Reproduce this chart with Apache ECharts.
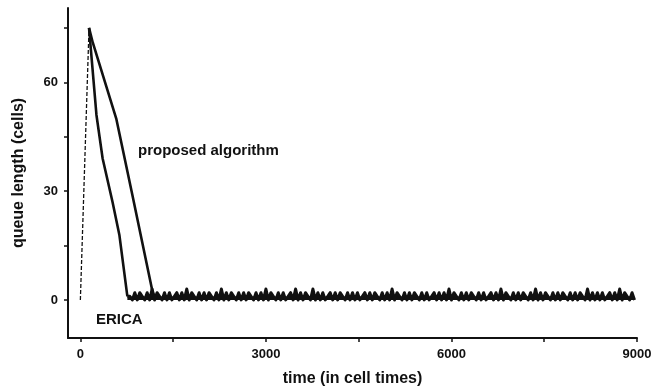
<!DOCTYPE html>
<html>
<head>
<meta charset="utf-8">
<script src="https://cdn.jsdelivr.net/npm/echarts@6/dist/echarts.min.js"></script>
<style>
  html, body { margin: 0; padding: 0; background: #fff; }
  #chart { width: 654px; height: 387px; }
</style>
</head>
<body>
<div id="chart"></div>
<script>
// queue build-up at the start (dashed)
const riseTime = [0, 140];
const riseQueue = [0, 75];

// drain of the queue, proposed algorithm
const proposedTime = [140, 200, 580, 840, 1170, 1200];
const proposedQueue = [75, 71, 50, 29, 2, 1];

// drain of the queue, ERICA
const ericaTime = [140, 260, 360, 520, 630, 760];
const ericaQueue = [75, 51, 39, 27, 18, 1];

// steady state after the drain, sampled every 40 cell times from t = 800
const steadyStart = 800;
const steadyStep = 40;
const steadyQueue = [
  1,0,2,0,2,1,0,2,0,3, 0,2,1,0,2,0,2,0,1,2,
  0,2,0,3,0,2,1,0,2,0, 2,0,2,1,0,2,0,3,0,2,
  0,2,1,0,2,0,2,0,2,1, 0,2,0,2,0,3,0,2,1,0,
  2,0,2,0,1,2,0,3,0,2, 0,2,1,0,3,0,2,0,2,0,
  1,2,0,2,0,2,1,0,2,0, 2,0,2,0,1,2,0,2,0,2,
  1,0,2,0,2,0,3,0,2,1, 0,2,0,2,0,2,1,0,2,0,
  2,0,1,2,0,2,0,2,0,3, 0,2,1,0,2,0,2,0,2,1,
  0,2,0,2,0,1,2,0,2,0, 3,0,2,1,0,2,0,2,0,2,
  1,0,2,0,3,0,2,0,2,1, 0,2,0,2,0,2,1,0,2,0,
  2,0,2,1,0,3,0,2,0,2, 0,2,0,1,2,0,2,0,3,0,
  2,1,0,2,0
];

const xTicks = [0, 1500, 3000, 4500, 6000, 7500, 9000];
const xLabels = [0, 3000, 6000, 9000];
const yTicks = [0, 15, 30, 45, 60, 75];
const yLabels = [0, 30, 60];

const zip = (xs, ys) => xs.map((x, i) => [x, ys[i]]);
const steadyData = [[ericaTime[ericaTime.length - 1], ericaQueue[ericaQueue.length - 1]]].concat(
  steadyQueue.map((v, i) => [steadyStart + i * steadyStep, v])
);

const ink = '#111';
const font = '"Liberation Sans", Arial, sans-serif';

const chart = echarts.init(document.getElementById('chart'));
chart.setOption({
  animation: false,
  backgroundColor: '#fff',
  grid: { left: 68, right: 17, top: 8, bottom: 49, outerBoundsMode: 'none' },
  xAxis: {
    type: 'value',
    min: -200,
    max: 9000,
    name: 'time (in cell times)',
    nameLocation: 'middle',
    nameGap: 33,
    nameTextStyle: { color: ink, fontSize: 16, fontWeight: 'bold', fontFamily: font },
    axisLine: { onZero: false, lineStyle: { color: ink, width: 2 } },
    axisTick: { customValues: xTicks, length: 4, lineStyle: { color: ink, width: 1.5 } },
    axisLabel: {
      customValues: xLabels, color: ink, fontSize: 13, fontWeight: 'bold', fontFamily: font, margin: 10,
      formatter: v => String(v)
    },
    splitLine: { show: false }
  },
  yAxis: {
    type: 'value',
    min: -10.5,
    max: 80.5,
    name: 'queue length (cells)',
    nameLocation: 'middle',
    nameRotate: 90,
    nameGap: 41,
    nameTextStyle: { color: ink, fontSize: 16, fontWeight: 'bold', fontFamily: font },
    axisLine: { show: true, onZero: false, lineStyle: { color: ink, width: 2 } },
    axisTick: { show: true, customValues: yTicks, length: 4, lineStyle: { color: ink, width: 1.5 } },
    axisLabel: { customValues: yLabels, color: ink, fontSize: 13, fontWeight: 'bold', fontFamily: font, margin: 10 },
    splitLine: { show: false }
  },
  series: [
    {
      name: 'rise',
      type: 'line',
      data: zip(riseTime, riseQueue),
      showSymbol: false,
      lineStyle: { color: ink, width: 1.3, type: [4, 2] }
    },
    {
      name: 'proposed algorithm',
      type: 'line',
      data: zip(proposedTime, proposedQueue),
      showSymbol: false,
      lineStyle: { color: ink, width: 2.6 }
    },
    {
      name: 'ERICA',
      type: 'line',
      data: zip(ericaTime, ericaQueue),
      showSymbol: false,
      lineStyle: { color: ink, width: 2.6 }
    },
    {
      name: 'steady state',
      type: 'line',
      data: steadyData,
      showSymbol: false,
      lineStyle: { color: ink, width: 3, join: 'round' },
      areaStyle: { color: ink, opacity: 1, origin: 'auto' }
    }
  ],
  graphic: [
    {
      type: 'text', left: 138, top: 143,
      style: { text: 'proposed algorithm', fill: ink, font: 'bold 15px ' + font }
    },
    {
      type: 'text', left: 96, top: 312,
      style: { text: 'ERICA', fill: ink, font: 'bold 15px ' + font }
    }
  ]
});
</script>
</body>
</html>
